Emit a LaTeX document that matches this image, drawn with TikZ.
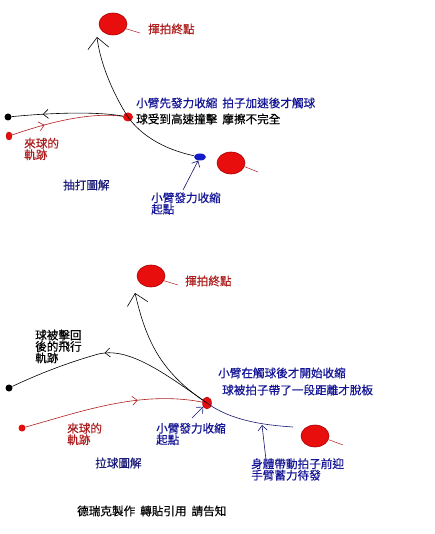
\documentclass[tikz,border=0pt]{standalone}
\usepackage{fontspec}
\setmainfont{Noto Sans CJK TC}[FakeBold=0.4]
\usetikzlibrary{shapes.geometric,arrows.meta,decorations.markings}
\definecolor{ballred}{RGB}{232,14,14}
\definecolor{balledge}{RGB}{170,0,0}
\definecolor{txtred}{RGB}{175,30,30}
\definecolor{txtblue}{RGB}{20,20,150}
\definecolor{txtnavy}{RGB}{25,25,120}
\definecolor{lineblue}{RGB}{20,20,110}
\definecolor{dotblue}{RGB}{20,30,200}
\begin{document}
\begin{tikzpicture}[x=1pt,y=-1pt,
  ballbig/.style={ellipse,fill=ballred,draw=balledge,line width=0.6pt,minimum width=28pt,minimum height=22pt,inner sep=0pt},
  txt/.style={font=\fontsize{11.6}{11.4}\selectfont,inner sep=0pt,anchor=west,align=left},
  swing/.style={line width=0.6pt,-{Straight Barb[length=11pt,width=21pt,line width=0.6pt]}},
  ptr/.style={line width=0.6pt,lineblue,-{Straight Barb[length=5pt,width=9pt,line width=0.6pt]}},
  midarrow/.style={postaction={decorate},decoration={markings,mark=at position #1 with {\arrow{Straight Barb[length=5pt,width=9pt,line width=0.6pt]}}}},
  tail/.style={txtred,line width=0.5pt}
]
\useasboundingbox[fill=white] (0,0) rectangle (434,534);

% ===== top diagram: 抽打圖解 =====
\node[ballbig] (e1) at (113,24) {};
\coordinate (t1) at (140,33);
\draw[tail] (e1.-20) -- (t1);
\node[txt,txtred] (l1) at (148,29) {揮拍終點};

\node[ellipse,fill=ballred,inner sep=0pt,minimum width=10pt,minimum height=9pt] (hit1) at (128,117) {};
\node[circle,fill=black,inner sep=0pt,minimum size=7pt] (bd1) at (8,117) {};
\node[ellipse,fill=ballred,draw=balledge,inner sep=0pt,minimum width=6pt,minimum height=8pt] (rd1) at (9,136) {};
\node[ellipse,fill=dotblue,inner sep=0pt,minimum width=12pt,minimum height=7pt] (bl1) at (200,157) {};
\node[ballbig] (e2) at (231,163) {};
\coordinate (t2) at (258,172);
\draw[tail] (e2.-15) -- (t2);
\coordinate (tip1) at (97,37);

% swing path
\draw[line width=0.6pt] (bl1) .. controls (162,149) and (140,134) .. (hit1.center);
\draw[swing] (hit1.center) .. controls (112,92) and (100,62) .. (tip1);
% incoming ball
\draw[txtred,line width=0.6pt,midarrow=0.3] (rd1) .. controls (50,122) and (90,112) .. (hit1);
% returned ball
\draw[black,line width=0.6pt,midarrow=0.72] (hit1) .. controls (100,112) and (60,112) .. (bd1);

\node[txt,txtblue] (l2) at (136,103) {小臂先發力收縮\hspace{5pt}拍子加速後才觸球};
\node[txt,black] (l3) at (136,119) {球受到高速撞擊\hspace{5pt}摩擦不完全};
\node[txt,txtred] (l4) at (24,149) {來球的\\軌跡};
\node[txt,txtnavy] (l5) at (63,185) {抽打圖解};
\node[txt,txtblue] (l6) at (151,203.5) {小臂發力收縮\\起點};
\coordinate (p1) at (183,190);
\draw[ptr] (p1) -- (bl1);

% ===== bottom diagram: 拉球圖解 =====
\node[ballbig] (e3) at (151,276) {};
\coordinate (t3) at (178,285);
\draw[tail] (e3.-20) -- (t3);
\node[txt,txtred] (l7) at (185,281) {揮拍終點};

\node[ellipse,fill=ballred,draw=balledge,inner sep=0pt,minimum width=9pt,minimum height=12pt] (hit2) at (207,403) {};
\node[circle,fill=black,inner sep=0pt,minimum size=7pt] (bd2) at (9,388) {};
\node[circle,fill=ballred,inner sep=0pt,minimum size=7pt] (rd2) at (22,428) {};
\node[ballbig] (e4) at (315,436) {};
\coordinate (t4) at (343,445);
\draw[tail] (e4.-15) -- (t4);
\coordinate (tip2) at (135,293);
\coordinate (bs) at (293,427);

% swing path
\draw[lineblue,line width=0.6pt] (bs) .. controls (262,425) and (230,420) .. (hit2.center);
\draw[swing] (hit2.center) .. controls (160,372) and (146,340) .. (tip2);
% returned ball
\draw[black,line width=0.6pt,midarrow=0.53] (hit2) .. controls (160,370) and (125,345) .. (95,355) .. controls (60,365) and (30,378) .. (bd2);
% incoming ball
\draw[txtred,line width=0.6pt,midarrow=0.64] (rd2) .. controls (80,412) and (140,390) .. (hit2);

\node[txt,black] (l8) at (35,346.5) {球被擊回\\後的飛行\\軌跡};
\node[txt,txtblue] (l9) at (218,373) {小臂在觸球後才開始收縮};
\node[txt,txtblue] (l10) at (222,390) {球被拍子帶了一段距離才脫板};
\node[txt,txtred] (l11) at (67,434) {來球的\\軌跡};
\node[txt,txtblue] (l12) at (156,434) {小臂發力收縮\\起點};
\coordinate (p2) at (192,418);
\draw[ptr] (p2) -- (hit2);
\node[txt,txtblue] (l13) at (251,469.5) {身體帶動拍子前迎\\手臂蓄力待發};
\coordinate (p3) at (266,460);
\coordinate (p3e) at (262,425);
\draw[ptr] (p3) -- (p3e);
\node[txt,txtnavy] (l14) at (95,463) {拉球圖解};

\node[txt,black] (l15) at (77,511) {德瑞克製作\hspace{5pt}轉貼引用\hspace{5pt}請告知};
\end{tikzpicture}
\end{document}
